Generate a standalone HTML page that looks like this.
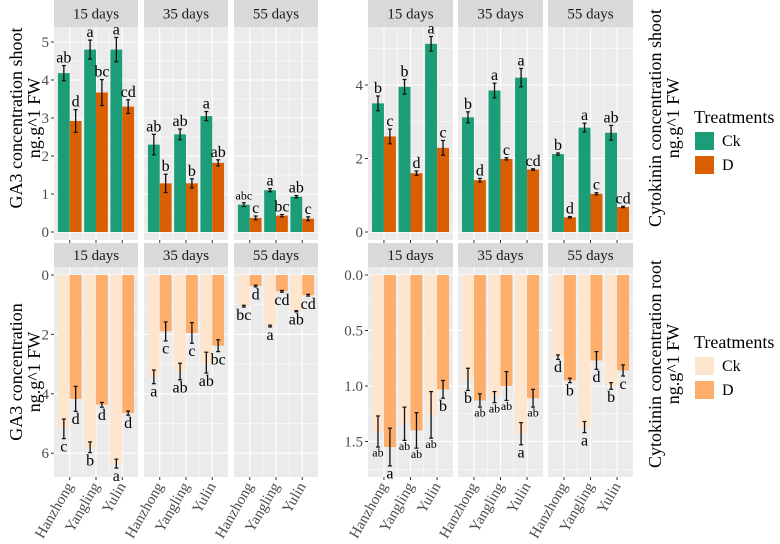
<!DOCTYPE html>
<html><head><meta charset="utf-8"><style>
body{margin:0;background:#fff;}
svg, svg text{font-family:"Liberation Serif","DejaVu Serif",serif;}
</style></head><body>
<svg id="c" width="780" height="539" viewBox="0 0 780 539" font-family="Liberation Serif, DejaVu Serif, serif"></svg>
<script>
const sites=["Hanzhong","Yangling","Yulin"];
const days=["15 days","35 days","55 days"];
// GA3 shoot
const ga3ShootCk=[[4.18,4.8,4.8],[2.3,2.57,3.05],[0.72,1.1,0.93]];
const ga3ShootD=[[2.92,3.67,3.3],[1.28,1.28,1.82],[0.37,0.43,0.35]];
const ga3ShootCkErr=[[0.2,0.25,0.32],[0.27,0.14,0.12],[0.05,0.04,0.03]];
const ga3ShootDErr=[[0.3,0.34,0.18],[0.24,0.12,0.08],[0.05,0.03,0.05]];
const ga3ShootCkLbl=[["ab","a","a"],["ab","ab","a"],["abc","a","ab"]];
const ga3ShootDLbl=[["d","bc","cd"],["b","b","ab"],["c","bc","c"]];
// Cytokinin shoot
const ckShootCk=[[3.5,3.95,5.12],[3.12,3.85,4.2],[2.12,2.84,2.7]];
const ckShootD=[[2.6,1.6,2.29],[1.41,1.99,1.7],[0.4,1.04,0.68]];
const ckShootCkErr=[[0.2,0.2,0.2],[0.15,0.2,0.25],[0.03,0.12,0.2]];
const ckShootDErr=[[0.2,0.06,0.2],[0.05,0.03,0.02],[0.02,0.03,0.02]];
const ckShootCkLbl=[["b","b","a"],["b","a","a"],["b","a","ab"]];
const ckShootDLbl=[["c","d","c"],["d","c","cd"],["d","c","cd"]];
// GA3 root
const ga3RootCk=[[5.18,5.8,6.35],[3.43,3.25,2.95],[1.05,1.72,1.22]];
const ga3RootD=[[4.17,4.37,4.65],[1.9,1.95,2.38],[0.37,0.55,0.68]];
const ga3RootCkErr=[[0.33,0.18,0.15],[0.23,0.28,0.35],[0.03,0.03,0.02]];
const ga3RootDErr=[[0.42,0.08,0.07],[0.32,0.35,0.2],[0.03,0.03,0.03]];
const ga3RootCkLbl=[["c","b","a"],["a","ab","ab"],["bc","a","ab"]];
const ga3RootDLbl=[["d","d","d"],["c","c","bc"],["d","cd","cd"]];
// Cytokinin root
const ckRootCk=[[1.41,1.34,1.26],[0.94,1.1,1.43],[0.74,1.37,1.0]];
const ckRootD=[[1.55,1.4,1.03],[1.13,1.0,1.11],[0.95,0.77,0.86]];
const ckRootCkErr=[[0.14,0.15,0.21],[0.1,0.05,0.1],[0.02,0.05,0.03]];
const ckRootDErr=[[0.17,0.16,0.08],[0.06,0.13,0.08],[0.02,0.08,0.05]];
const ckRootCkLbl=[["ab","ab","ab"],["b","ab","a"],["d","a","b"]];
const ckRootDLbl=[["a","ab","b"],["ab","ab","ab"],["b","d","c"]];

const NS="http://www.w3.org/2000/svg";
const svg=document.getElementById("c");
const FF="Liberation Serif, DejaVu Serif, serif";
function el(tag,attrs,parent){const e=document.createElementNS(NS,tag);for(const k in attrs)e.setAttribute(k,attrs[k]);if(tag==="text")e.setAttribute("font-family",FF);(parent||svg).appendChild(e);return e;}

function drawRow(o){
  for(let p=0;p<3;p++){
    const x0=o.x0+p*90, w=o.w;
    const g=el("g",{});
    
    
    const s=el("rect",{x:x0,y:o.stripY,width:w,height:o.plotY-o.stripY,fill:"#d9d9d9"},g);
    
    
    const st=el("text",{x:x0+w/2,y:o.stripY+(o.plotY-o.stripY)/2+5,"text-anchor":"middle","font-size":"15",fill:"#1a1a1a"},g);
    st.textContent=days[p];
    
    
    const bg=el("rect",{x:x0,y:o.plotY,width:w,height:o.plotB-o.plotY,fill:"#ebebeb"},g);
    
    
    const ux=w/3.2;
    const cx=i=>x0+(0.6+i)*ux;
    o.minor.forEach(v=>{const y=o.ys(v);el("line",{x1:x0,x2:x0+w,y1:y,y2:y,stroke:"#fff","stroke-width":0.5},g);});
    o.major.forEach(v=>{const y=o.ys(v);el("line",{x1:x0,x2:x0+w,y1:y,y2:y,stroke:"#fff","stroke-width":1.1},g);});
    for(let i=0;i<3;i++){el("line",{x1:cx(i),x2:cx(i),y1:o.plotY,y2:o.plotB,stroke:"#fff","stroke-width":1.1},g);}
    for(let i=0;i<2;i++){const xm=(cx(i)+cx(i+1))/2;el("line",{x1:xm,x2:xm,y1:o.plotY,y2:o.plotB,stroke:"#fff","stroke-width":0.5},g);}
    const bw=0.45*ux;
    const y0=o.ys(0);
    for(let i=0;i<3;i++){
      [[o.ck,o.ckE,o.ckL,o.col[0],-1,'ck'],[o.d,o.dE,o.dL,o.col[1],0,'d']].forEach(([vals,errs,lbls,col,off,key])=>{
        const v=vals[p][i], e=errs[p][i];
        const bx=cx(i)+off*bw;
        const yv=o.ys(v);
        const r=el("rect",{x:bx,y:Math.min(y0,yv),width:bw,height:Math.abs(yv-y0),fill:col},g);
        
        
        const ex=bx+bw/2;
        const ya=o.ys(v-e), yb=o.ys(v+e);
        el("line",{x1:ex,x2:ex,y1:ya,y2:yb,stroke:"#111","stroke-width":1.3},g);
        el("line",{x1:ex-2,x2:ex+2,y1:ya,y2:ya,stroke:"#111","stroke-width":1.2},g);
        el("line",{x1:ex-2,x2:ex+2,y1:yb,y2:yb,stroke:"#111","stroke-width":1.2},g);
        const lbl=lbls[p][i];
        const fs=lbl.length>2?12:(lbl.length==2&&o.small?12:16);
        const ly=o.down?yb+fs*0.8:yb-3;
        const t=el("text",{x:ex,y:ly,"text-anchor":"middle","font-size":fs,fill:"#000"},g);
        t.textContent=lbl;
        
        
      });
    }
    for(let i=0;i<3;i++){
      el("line",{x1:cx(i),x2:cx(i),y1:o.plotB,y2:o.plotB+3,stroke:"#333","stroke-width":1},g);
      if(o.xlabels){
        const t=el("text",{x:0,y:0,"text-anchor":"end","font-size":"15",fill:"#4d4d4d",transform:`translate(${cx(i)+4},${o.plotB+9}) rotate(-60)`},g);
        t.textContent=sites[i];
        
        
      }
    }
    if(p===0){
      o.major.forEach((v,k)=>{const y=o.ys(v);
        el("line",{x1:x0-3,x2:x0,y1:y,y2:y,stroke:"#333","stroke-width":1});
        const t=el("text",{x:x0-5,y:y+5,"text-anchor":"end","font-size":"15",fill:"#4d4d4d"});
        t.textContent=o.tickLbl[k];
        
        
      });
    }
  }
}
const ticks05=["0","1","2","3","4","5"];
drawRow({name:"ga3-shoot",x0:54,w:84,stripY:0,plotY:27,plotB:240,ys:v=>232-38*v,major:[0,1,2,3,4,5],minor:[0.5,1.5,2.5,3.5,4.5],tickLbl:ticks05,
 ck:ga3ShootCk,d:ga3ShootD,ckE:ga3ShootCkErr,dE:ga3ShootDErr,ckL:ga3ShootCkLbl,dL:ga3ShootDLbl,col:["#1b9e77","#d95f02"],down:false});
drawRow({name:"cytokinin-shoot",x0:368,w:85,stripY:0,plotY:27,plotB:240,ys:v=>232-36.75*v,major:[0,2,4],minor:[1,3,5],tickLbl:["0","2","4"],
 ck:ckShootCk,d:ckShootD,ckE:ckShootCkErr,dE:ckShootDErr,ckL:ckShootCkLbl,dL:ckShootDLbl,col:["#1b9e77","#d95f02"],down:false});
drawRow({name:"ga3-root",x0:54,w:84,stripY:243,plotY:267,plotB:477,ys:v=>275+29.7*v,major:[0,2,4,6],minor:[1,3,5],tickLbl:["0","2","4","6"],
 ck:ga3RootCk,d:ga3RootD,ckE:ga3RootCkErr,dE:ga3RootDErr,ckL:ga3RootCkLbl,dL:ga3RootDLbl,col:["#fee6ce","#fdae6b"],down:true,xlabels:true});
drawRow({name:"cytokinin-root",x0:368,w:85,stripY:243,plotY:267,plotB:477,ys:v=>275+111*v,major:[0,0.5,1,1.5],minor:[0.25,0.75,1.25,1.75],tickLbl:["0.0","0.5","1.0","1.5"],
 ck:ckRootCk,d:ckRootD,ckE:ckRootCkErr,dE:ckRootDErr,ckL:ckRootCkLbl,dL:ckRootDLbl,col:["#fee6ce","#fdae6b"],down:true,small:true,xlabels:true});

function title(lines,x,y,rot,name){
  const t=el("text",{"text-anchor":"middle","font-size":"18",fill:"#000",transform:`translate(${x},${y}) rotate(${rot})`});
  lines.forEach((l,i)=>{const s=el("tspan",{x:0,dy:i?18:0},t);s.textContent=l;});
  
  
}
title(["GA3 concentration shoot","ng.g^1 FW"],22,118,-90,"y-axis-title-ga3-shoot");
title(["GA3 concentration","ng.g^1 FW"],22,372,-90,"y-axis-title-ga3-root");
title(["Cytokinin concentration shoot","ng.g^1 FW"],661,118,-90,"y-axis-title-cytokinin-shoot");
title(["Cytokinin concentration root","ng.g^1 FW"],661,364,-90,"y-axis-title-cytokinin-root");

function legend(y,cols,name){
  const g=el("g",{});
  
  
  const t=el("text",{x:694,y:y,"font-size":"18",fill:"#000"},g);t.textContent="Treatments";
  ["Ck","D"].forEach((k,i)=>{
    const r=el("rect",{x:695,y:y+9+i*24,width:19,height:18,fill:cols[i]},g);
    
    
    const tt=el("text",{x:722,y:y+23+i*24,"font-size":"16",fill:"#000"},g);tt.textContent=k;
    
    
  });
}
legend(123,["#1b9e77","#d95f02"],"legend-shoot");
legend(348,["#fee6ce","#fdae6b"],"legend-root");
</script>
</body></html>
